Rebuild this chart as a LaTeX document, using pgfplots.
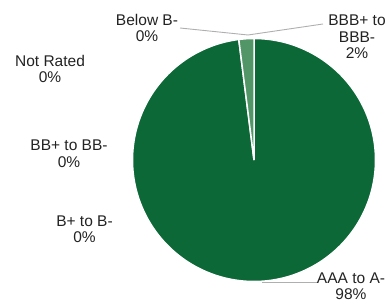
\documentclass[border=0pt]{standalone}
\usepackage{pgfplots}
\pgfplotsset{compat=1.18}
\usepackage{fontspec}
\setmainfont{Liberation Sans}
\definecolor{darkgreen}{RGB}{12,104,54}
\definecolor{lightgreen}{RGB}{82,150,104}
\definecolor{leader}{RGB}{175,175,175}
\definecolor{txt}{RGB}{35,35,35}
% pie values (percent), in Excel order clockwise from 12 o'clock
\def\vAAA{98}
\def\vBBB{2}
\def\vBB{0}
\def\vB{0}
\def\vBelow{0}
\def\vNR{0}
\def\cx{254}
\def\cy{144}
\def\rr{121.5}
\tikzset{lbl/.style={font=\fontsize{15.5}{16.5}\selectfont, text=txt, align=center, inner sep=0pt}}
\begin{document}
\begin{tikzpicture}
\begin{axis}[
  scale only axis, width=390pt, height=304pt,
  xmin=0, xmax=390, ymin=0, ymax=304,
  hide axis, clip=false,
]
% AAA to A-
\addplot[fill=darkgreen, draw=white, line width=1.5pt, domain=90:{90-\vAAA*3.6}, samples=300, variable=\t]
  ({\cx+\rr*cos(\t)}, {\cy+\rr*sin(\t)}) -- (axis cs:\cx,\cy) -- cycle;
% BBB+ to BBB-
\addplot[fill=lightgreen, draw=white, line width=1.5pt, domain={90-\vAAA*3.6}:{90-(\vAAA+\vBBB)*3.6}, samples=20, variable=\t]
  ({\cx+\rr*cos(\t)}, {\cy+\rr*sin(\t)}) -- (axis cs:\cx,\cy) -- cycle;
% leader lines
\addplot[leader, line width=0.9pt] coordinates {(180,276) (248,269) (323,280)};
\addplot[leader, line width=0.9pt] coordinates {(262,22) (317,22)};
% labels
\node[lbl] at (axis cs:357,267) {BBB+ to\\BBB-\\2\%};
\node[lbl] at (axis cs:147,276) {Below B-\\0\%};
\node[lbl] at (axis cs:50,235) {Not Rated\\0\%};
\node[lbl] at (axis cs:69,150.5) {BB+ to BB-\\0\%};
\node[lbl] at (axis cs:84.5,75) {B+ to B-\\0\%};
\node[lbl, font=\fontsize{15.5}{15.5}\selectfont] at (axis cs:351,18) {AAA to A-\\98\%};
\end{axis}
\pgfresetboundingbox
\path (0,0) rectangle (390pt,304pt);
\end{tikzpicture}
\end{document}
